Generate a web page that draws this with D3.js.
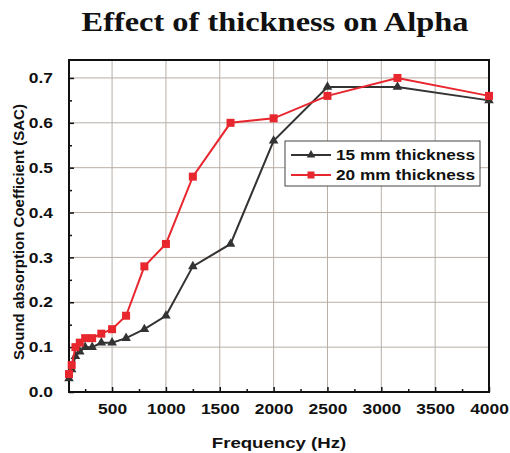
<!DOCTYPE html>
<html>
<head>
<meta charset="utf-8">
<script src="https://cdn.jsdelivr.net/npm/d3@7"></script>
<style>
  body { margin: 0; background: #fff; }
  text { font-family: "Liberation Sans", Arial, sans-serif; font-weight: bold; }
</style>
</head>
<body>
<div id="chart"></div>
<script>
// data
const freqs = [100, 125, 160, 200, 250, 315, 400, 500, 630, 800, 1000, 1250, 1600, 2000, 2500, 3150, 4000];
const sac15 = [0.03, 0.05, 0.08, 0.09, 0.10, 0.10, 0.11, 0.11, 0.12, 0.14, 0.17, 0.28, 0.33, 0.56, 0.68, 0.68, 0.65];
const sac20 = [0.04, 0.06, 0.10, 0.11, 0.12, 0.12, 0.13, 0.14, 0.17, 0.28, 0.33, 0.48, 0.60, 0.61, 0.66, 0.70, 0.66];
const xTicks = [500, 1000, 1500, 2000, 2500, 3000, 3500, 4000];
const yTicks = [0, 0.1, 0.2, 0.3, 0.4, 0.5, 0.6, 0.7];
const seriesNames = ["15 mm thickness", "20 mm thickness"];

const width = 510, height = 453;
const margin = {top: 60, right: 21, bottom: 61, left: 69};
const w = width - margin.left - margin.right;
const h = height - margin.top - margin.bottom;

// the picture is a bit wider than tall, so text is stretched sideways
const stretch = 1.2;
function widen(sel, k) {
    sel.each(function () {
        const len = this.getComputedTextLength();
        d3.select(this).attr("textLength", len * k).attr("lengthAdjust", "spacingAndGlyphs");
    });
}

const svg = d3.select("#chart").append("svg")
    .attr("width", width)
    .attr("height", height);

const g = svg.append("g")
    .attr("transform", "translate(" + margin.left + "," + margin.top + ")");

const x = d3.scaleLinear().domain([100, 4000]).range([0, w]);
const y = d3.scaleLinear().domain([0, 0.74]).range([h, 0]);

// grid
g.append("g").selectAll("line.vg")
    .data(xTicks.slice(0, -1)).enter()
    .append("line")
    .attr("x1", d => x(d)).attr("x2", d => x(d))
    .attr("y1", 0).attr("y2", h)
    .attr("stroke", "#b8aea6").attr("stroke-width", 1);
g.append("g").selectAll("line.hg")
    .data(yTicks.slice(1)).enter()
    .append("line")
    .attr("x1", 0).attr("x2", w)
    .attr("y1", d => y(d)).attr("y2", d => y(d))
    .attr("stroke", "#b8aea6").attr("stroke-width", 1);

// axes
const xAxis = g.append("g")
    .attr("transform", "translate(0," + h + ")")
    .call(d3.axisBottom(x).tickValues(xTicks).tickSize(-5).tickPadding(12).tickFormat(d3.format("d")));
const xMinor = g.append("g")
    .attr("transform", "translate(0," + h + ")")
    .call(d3.axisBottom(x).tickValues(d3.range(250, 4000, 500)).tickSize(-3).tickFormat(""));
const yAxis = g.append("g")
    .call(d3.axisLeft(y).tickValues(yTicks).tickSize(-5).tickPadding(16).tickFormat(d3.format(".1f")));
const yMinor = g.append("g")
    .call(d3.axisLeft(y).tickValues(d3.range(0.05, 0.74, 0.1)).tickSize(-3).tickFormat(""));

[xAxis, xMinor, yAxis, yMinor].forEach(a => {
    a.select(".domain").remove();
    a.selectAll(".tick line").attr("stroke", "#111").attr("stroke-width", 1.5);
    a.selectAll("text").attr("font-size", 14.5).attr("fill", "#111");
});
widen(xAxis.selectAll("text"), stretch);
widen(yAxis.selectAll("text"), stretch);

// frame
g.append("rect")
    .attr("x", 0).attr("y", 0).attr("width", w).attr("height", h)
    .attr("fill", "none").attr("stroke", "#111").attr("stroke-width", 2);

// lines
const line = d3.line().x(d => x(d[0])).y(d => y(d[1]));
const black = "#333333", red = "#e8262d";

const d15 = freqs.map((f, i) => [f, sac15[i]]);
const d20 = freqs.map((f, i) => [f, sac20[i]]);

g.append("path").datum(d15).attr("d", line)
    .attr("fill", "none").attr("stroke", black).attr("stroke-width", 2);
g.append("g").selectAll("path")
    .data(d15).enter()
    .append("path")
    .attr("d", d3.symbol(d3.symbolTriangle, 40))
    .attr("transform", d => "translate(" + x(d[0]) + "," + y(d[1]) + ")")
    .attr("fill", black);

g.append("path").datum(d20).attr("d", line)
    .attr("fill", "none").attr("stroke", red).attr("stroke-width", 2);
g.append("g").selectAll("rect.m")
    .data(d20).enter()
    .append("rect")
    .attr("x", d => x(d[0]) - 4).attr("y", d => y(d[1]) - 4)
    .attr("width", 8).attr("height", 8)
    .attr("fill", red);

// legend
const leg = svg.append("g").attr("transform", "translate(285,141)");
leg.append("rect").attr("width", 195).attr("height", 45)
    .attr("fill", "#fff").attr("stroke", "#444").attr("stroke-width", 1);
[[black, "tri"], [red, "sq"]].forEach((s, i) => {
    const yy = 14 + i * 20;
    leg.append("line").attr("x1", 6).attr("x2", 46).attr("y1", yy).attr("y2", yy)
        .attr("stroke", s[0]).attr("stroke-width", 2);
    if (s[1] === "tri") {
        leg.append("path").attr("d", d3.symbol(d3.symbolTriangle, 32))
            .attr("transform", "translate(26," + yy + ")").attr("fill", s[0]);
    } else {
        leg.append("rect").attr("x", 22.5).attr("y", yy - 3.5).attr("width", 7).attr("height", 7)
            .attr("fill", s[0]);
    }
    leg.append("text").attr("x", 51).attr("y", yy + 5)
        .attr("font-size", 14.5).attr("fill", "#111")
        .attr("textLength", 139).attr("lengthAdjust", "spacingAndGlyphs")
        .text(seriesNames[i]);
});

// titles
svg.append("text")
    .attr("transform", "translate(275,31) scale(1.2,1)")
    .attr("text-anchor", "middle")
    .style("font-family", "'Liberation Serif', 'Times New Roman', serif")
    .attr("font-size", 27).attr("fill", "#111")
    .text("Effect of thickness on Alpha");

const xLabel = svg.append("text")
    .attr("x", 279).attr("y", 448)
    .attr("text-anchor", "middle")
    .attr("font-size", 15.5).attr("fill", "#111")
    .text("Frequency (Hz)");
widen(xLabel, stretch);

svg.append("text")
    .attr("transform", "translate(24," + (margin.top + h / 2 + 6) + ") rotate(-90)")
    .attr("text-anchor", "middle")
    .attr("font-size", 15).attr("fill", "#111")
    .text("Sound absorption Coefficient (SAC)");
</script>
</body>
</html>
